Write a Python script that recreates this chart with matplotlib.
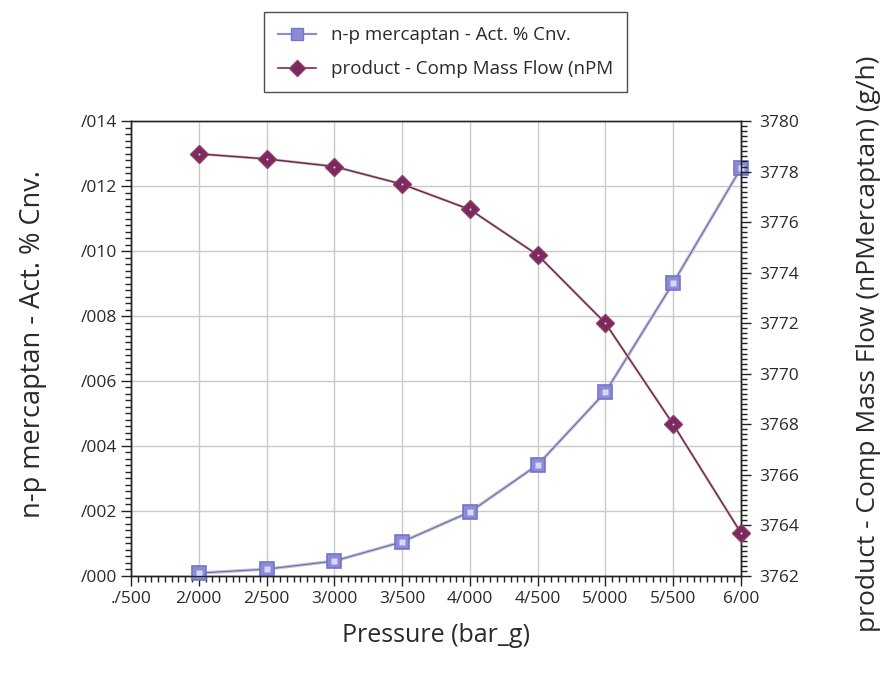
import matplotlib
matplotlib.use("Agg")
import matplotlib.pyplot as plt
from matplotlib.ticker import FixedLocator, FixedFormatter, AutoMinorLocator
from matplotlib.lines import Line2D

plt.rcParams['font.family'] = ['Open Sans', 'DejaVu Sans']

# Pressure sweep (bar_g)
pressure = [2.0, 2.5, 3.0, 3.5, 4.0, 4.5, 5.0, 5.5, 6.0]
# n-p mercaptan actual % conversion
conversion = [0.00009, 0.00021, 0.00046, 0.00105, 0.00197, 0.00342, 0.00566, 0.00902, 0.01255]
# product component mass flow of nPMercaptan (g/h)
mass_flow = [3778.7, 3778.5, 3778.2, 3777.5, 3776.5, 3774.7, 3772.0, 3768.0, 3763.7]

x_ticks = [1.5, 2.0, 2.5, 3.0, 3.5, 4.0, 4.5, 5.0, 5.5, 6.0]
x_tick_labels = ["./500", "2/000", "2/500", "3/000", "3/500", "4/000", "4/500", "5/000", "5/500", "6/00"]
left_ticks = [0.000, 0.002, 0.004, 0.006, 0.008, 0.010, 0.012, 0.014]
left_tick_labels = ["/000", "/002", "/004", "/006", "/008", "/010", "/012", "/014"]
right_ticks = [3762, 3764, 3766, 3768, 3770, 3772, 3774, 3776, 3778, 3780]
right_tick_labels = [str(v) for v in right_ticks]

conv_label = "n-p mercaptan - Act. % Cnv."
flow_label = "product - Comp Mass Flow (nPM"
right_axis_title = "product - Comp Mass Flow (nPMercaptan) (g/h)"

text_c = '#2a2a2a'

fig = plt.figure(figsize=(8.92, 6.75), dpi=100)
ax = fig.add_axes([0.1469, 0.1467, 0.8307 - 0.1469, 0.8207 - 0.1467])
ax2 = ax.twinx()

grid_c = '#c9c9c9'
ax.set_xlim(1.5, 6.0)
ax.set_ylim(0.0, 0.014)
ax2.set_ylim(3762, 3780)

ax.xaxis.set_major_locator(FixedLocator(x_ticks))
ax.xaxis.set_major_formatter(FixedFormatter(x_tick_labels))
ax.xaxis.set_minor_locator(AutoMinorLocator(10))
ax.yaxis.set_major_locator(FixedLocator(left_ticks))
ax.yaxis.set_major_formatter(FixedFormatter(left_tick_labels))
ax.yaxis.set_minor_locator(AutoMinorLocator(10))
ax2.yaxis.set_major_locator(FixedLocator(right_ticks))
ax2.yaxis.set_major_formatter(FixedFormatter(right_tick_labels))
ax2.yaxis.set_minor_locator(AutoMinorLocator(10))

ax.grid(True, which='major', color=grid_c, linewidth=1.0)
ax.set_axisbelow(True)

for a in (ax, ax2):
    for s in a.spines.values():
        s.set_color('#222222')
        s.set_linewidth(1.0)
ax.spines['top'].set_color('#444444')

ax.tick_params(axis='both', which='major', length=7, width=1, color='#222222',
               labelsize=12.5, labelcolor=text_c, direction='out', pad=3)
ax.tick_params(axis='x', which='major', pad=4)
ax.tick_params(axis='both', which='minor', length=4, width=1, color='#222222', direction='out')
ax2.tick_params(axis='y', which='major', length=7, width=1, color='#222222',
                labelsize=12.5, labelcolor=text_c, direction='out', pad=6)
ax2.tick_params(axis='y', which='minor', length=4, width=1, color='#222222', direction='out')

# Conversion curve on left axis
sq_face = '#8b8bd8'
sq_edge = '#7474c8'
ax.plot(pressure, conversion, color='#c2c2ec', linewidth=2.4, zorder=3, clip_on=False)
ax.plot(pressure, conversion, color='#6e6e86', linewidth=0.8, zorder=3.1, clip_on=False)
ax.plot(pressure, conversion, linestyle='none', marker='s', markersize=10.5,
        markerfacecolor=sq_face, markeredgecolor=sq_edge, markeredgewidth=1.2,
        zorder=4, clip_on=False)
ax.plot(pressure, conversion, linestyle='none', marker='s', markersize=4,
        markerfacecolor='#d8d8f4', markeredgecolor='none', zorder=4.1, clip_on=False)

# Mass flow curve on right axis
dm_face = '#7c2a5c'
ax2.plot(pressure, mass_flow, color='#dcb0c6', linewidth=2.0, zorder=3, clip_on=False)
ax2.plot(pressure, mass_flow, color='#5e2c44', linewidth=1.0, zorder=3.1, clip_on=False)
ax2.plot(pressure, mass_flow, linestyle='none', marker='D', markersize=9,
         markerfacecolor=dm_face, markeredgecolor='#8e3c6c', markeredgewidth=1.0,
         zorder=4, clip_on=False)
ax2.plot(pressure, mass_flow, linestyle='none', marker='.', markersize=3,
         markerfacecolor='#e8c8d8', markeredgecolor='none', zorder=4.1, clip_on=False)

ax.set_xlabel("Pressure (bar_g)", fontsize=18, color=text_c, labelpad=11)
fig.text(0.037, 0.49, conv_label, rotation=90, ha='center', va='center',
         fontsize=19.5, color=text_c)
fig.text(0.974, 0.49, right_axis_title, rotation=90, ha='center', va='center',
         fontsize=19, color=text_c)

handles = [
    Line2D([], [], color='#8b8bd8', linewidth=1.5, marker='s', markersize=9,
           markerfacecolor=sq_face, markeredgecolor=sq_edge),
    Line2D([], [], color='#7c2a5c', linewidth=1.2, marker='D', markersize=8,
           markerfacecolor=dm_face, markeredgecolor='#8e3c6c'),
]
leg = fig.legend(handles, [conv_label, flow_label], loc='upper left',
                 bbox_to_anchor=(0.296, 0.982), borderaxespad=0.0,
                 fontsize=13.5, frameon=True,
                 fancybox=False, edgecolor='#222222', handlelength=2.0,
                 borderpad=0.75, labelspacing=0.85, handletextpad=0.8)
leg.get_frame().set_linewidth(1.0)
for t in leg.get_texts():
    t.set_color(text_c)

fig.savefig("out.png", dpi=100, facecolor='white')
